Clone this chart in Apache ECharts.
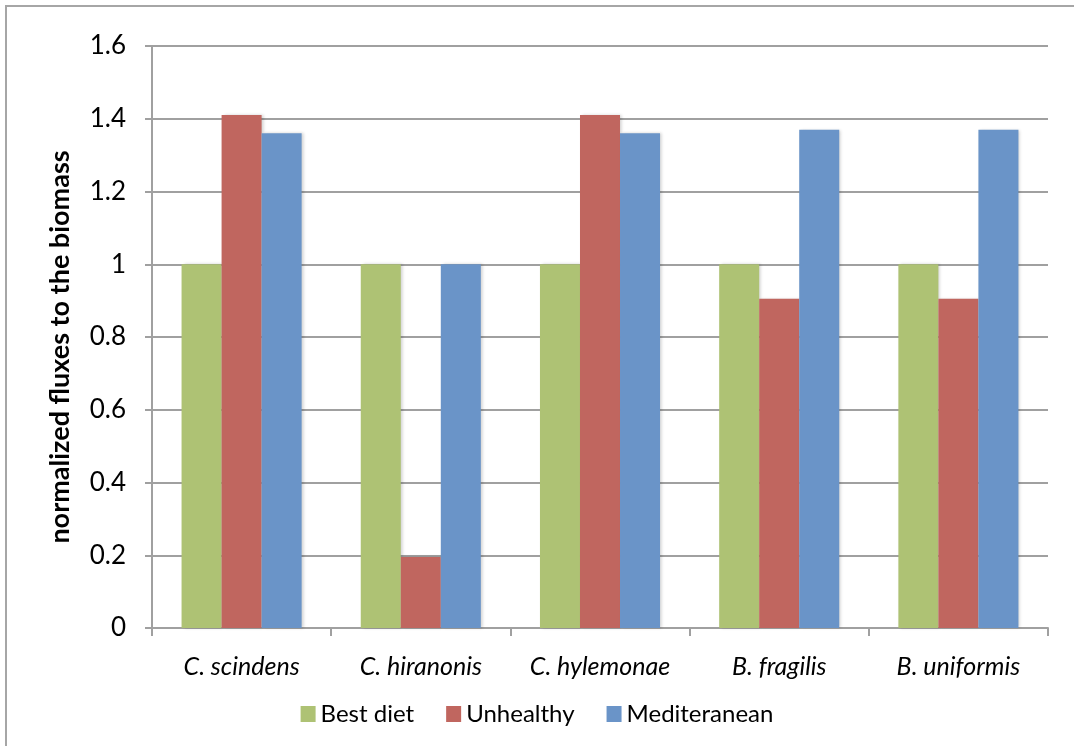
<!DOCTYPE html>
<html>
<head>
<meta charset="utf-8">
<script src="https://cdn.jsdelivr.net/npm/echarts@6/dist/echarts.min.js"></script>
<style>
html,body{margin:0;padding:0;background:#fff;}
#chart{width:1074px;height:746px;}
</style>
</head>
<body>
<div id="chart"></div>
<script>
var categories = ['C. scindens', 'C. hiranonis', 'C. hylemonae', 'B. fragilis', 'B. uniformis'];
var seriesNames = ['Best diet', 'Unhealthy', 'Mediteranean'];
var bestDiet = [1, 1, 1, 1, 1];
var unhealthy = [1.41, 0.195, 1.41, 0.905, 0.905];
var mediteranean = [1.36, 1, 1.36, 1.37, 1.37];
var colors = ['#AEC274', '#C0665F', '#6A94C8'];
var FONT = 'Lato, "Open Sans", "Liberation Sans", sans-serif';

var chart = echarts.init(document.getElementById('chart'));
var dataSets = [bestDiet, unhealthy, mediteranean];
var series = seriesNames.map(function (n, i) {
  return {
    name: n,
    type: 'bar',
    data: dataSets[i],
    barGap: '0%',
    barCategoryGap: '33%',
    itemStyle: {
      color: colors[i],
      shadowColor: 'rgba(0,0,0,0.18)',
      shadowBlur: 3,
      shadowOffsetX: 2,
      shadowOffsetY: 0
    },
    animation: false
  };
});

chart.setOption({
  backgroundColor: '#ffffff',
  animation: false,
  graphic: [{
    type: 'rect',
    shape: { x: 6, y: 6, width: 1200, height: 900 },
    style: { fill: 'none', stroke: '#a6a6a6', lineWidth: 2 },
    z: -1
  }],
  grid: { left: 152, right: 26, top: 46, bottom: 118, containLabel: false },
  legend: {
    data: seriesNames,
    bottom: 15,
    left: 'center',
    itemWidth: 15,
    itemHeight: 16,
    itemGap: 32,
    icon: 'rect',
    textStyle: { fontFamily: FONT, fontSize: 24, color: '#000' }
  },
  xAxis: {
    type: 'category',
    data: categories,
    axisLine: { lineStyle: { color: '#a0a0a0', width: 2 } },
    axisTick: { show: true, interval: 0, length: 8, lineStyle: { color: '#a0a0a0', width: 2 } },
    axisLabel: { interval: 0, hideOverlap: false, fontFamily: FONT, fontStyle: 'italic', fontSize: 25, color: '#000', margin: 26 }
  },
  yAxis: {
    type: 'value',
    min: 0,
    max: 1.6,
    interval: 0.2,
    name: 'normalized fluxes to the biomass',
    nameLocation: 'middle',
    nameGap: 78,
    nameTextStyle: { fontFamily: FONT, fontWeight: 'bold', fontSize: 27, color: '#000', padding: [0, 20, 0, 0] },
    axisLine: { show: true, lineStyle: { color: '#a0a0a0', width: 2 } },
    axisTick: { show: true, length: 7, lineStyle: { color: '#a0a0a0', width: 2 } },
    splitLine: { lineStyle: { color: '#a0a0a0', width: 2 } },
    axisLabel: {
      fontFamily: FONT, fontSize: 26, color: '#000', margin: 26,
      formatter: function (v) { return String(Math.round(v * 10) / 10); }
    }
  },
  series: series
});
</script>
</body>
</html>
